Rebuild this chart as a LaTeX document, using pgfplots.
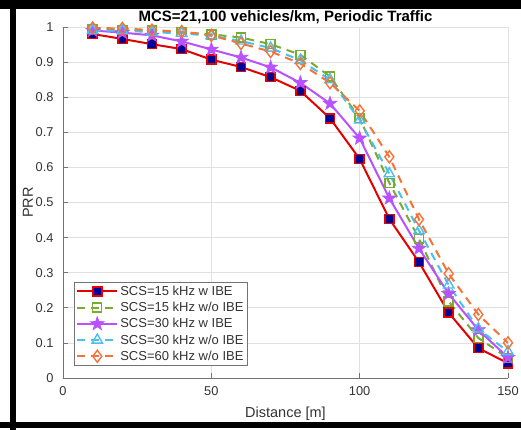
\documentclass[border=0pt]{standalone}
\usepackage{fontspec}
\setmainfont{Liberation Sans}
\usepackage{pgfplots}
\pgfplotsset{compat=1.18}

\definecolor{cRed}{rgb}{0.90,0.0,0.0}
\definecolor{cBlue}{rgb}{0.0,0.0,0.60}
\definecolor{cGreen}{rgb}{0.47,0.67,0.19}
\definecolor{cPurple}{rgb}{0.72,0.32,1.0}
\definecolor{cCyan}{rgb}{0.30,0.75,0.93}
\definecolor{cOrange}{rgb}{0.96,0.45,0.22}

% filled five-point star (MATLAB pentagram)
\pgfdeclareplotmark{fstar}{%
  \pgfpathmoveto{\pgfpointpolar{90}{\pgfplotmarksize}}%
  \pgfpathlineto{\pgfpointpolar{126}{0.4\pgfplotmarksize}}%
  \pgfpathlineto{\pgfpointpolar{162}{\pgfplotmarksize}}%
  \pgfpathlineto{\pgfpointpolar{198}{0.4\pgfplotmarksize}}%
  \pgfpathlineto{\pgfpointpolar{234}{\pgfplotmarksize}}%
  \pgfpathlineto{\pgfpointpolar{270}{0.4\pgfplotmarksize}}%
  \pgfpathlineto{\pgfpointpolar{306}{\pgfplotmarksize}}%
  \pgfpathlineto{\pgfpointpolar{342}{0.4\pgfplotmarksize}}%
  \pgfpathlineto{\pgfpointpolar{18}{\pgfplotmarksize}}%
  \pgfpathlineto{\pgfpointpolar{54}{0.4\pgfplotmarksize}}%
  \pgfpathclose
  \pgfusepathqfillstroke}

\begin{document}
\begin{tikzpicture}[x=1pt,y=1pt]
  % page with the black border of the screenshot
  \fill[white] (-63,-52) rectangle (458,378);
  \fill[black] (-63,369) rectangle (458,378);
  \begin{axis}[
    at={(0,0)}, anchor=south west,
    scale only axis,
    width=445pt, height=351pt,
    xmin=0, xmax=150, ymin=0, ymax=1,
    xtick={0,50,100,150},
    ytick={0,0.1,0.2,0.3,0.4,0.5,0.6,0.7,0.8,0.9,1},
    axis lines*=left,
    axis line style={black!55, line width=0.8pt, -},
    tick align=inside,
    major tick length=5pt,
    tick style={black!55, line width=0.7pt},
    grid=major,
    grid style={black!12, line width=0.7pt},
    /pgf/number format/assume math mode=true,
    ticklabel style={font=\fontsize{12.8}{14}\selectfont, text=black!80},
    yticklabel style={xshift=-6pt, /pgf/number format/fixed},
    xticklabel style={yshift=-5pt},
    title={\bfseries MCS=21,100 vehicles/km, Periodic Traffic},
    title style={at={(axis description cs:0.5,1)}, anchor=south, yshift=-6.5pt,
      font=\fontsize{15}{17}\selectfont},
    xlabel={Distance [m]},
    xlabel style={at={(axis description cs:0.5,-0.101)}, anchor=center,
      font=\fontsize{14.5}{16}\selectfont, text=black!80},
    ylabel={PRR},
    ylabel style={at={(axis description cs:-0.079,0.5)}, anchor=center,
      font=\fontsize{14.5}{16}\selectfont, text=black!80},
    legend cell align=left,
    legend style={at={(axis description cs:0.0247,0.034)}, anchor=south west,
      draw=black!55, fill=white, line width=0.6pt,
      font=\fontsize{13}{15}\selectfont, text=black!80,
      row sep=1.3pt, inner sep=2pt},
    legend image code/.code={%
      \draw[mark repeat=2, mark phase=2, #1]
        plot coordinates {(0pt,0pt) (20pt,0pt) (40pt,0pt)};},
    every axis plot/.append style={line width=2pt},
  ]
    \addplot[cRed, mark=square*, mark size=4.5pt,
      mark options={solid, fill=cBlue, draw=cRed, line width=1.6pt}]
      coordinates {
      (10,0.980) (20,0.966) (30,0.951) (40,0.937) (50,0.907)
      (60,0.886) (70,0.857) (80,0.818) (90,0.740) (100,0.624)
      (110,0.453) (120,0.330) (130,0.186) (140,0.085) (150,0.042)
    };
    \addlegendentry{SCS=15 kHz w IBE}
    \addplot[cGreen, dash pattern=on 8pt off 6pt, mark=square, mark size=4.5pt,
      mark options={solid, line width=1.4pt}]
      coordinates {
      (10,0.995) (20,0.992) (30,0.990) (40,0.985) (50,0.979)
      (60,0.970) (70,0.951) (80,0.921) (90,0.859) (100,0.740)
      (110,0.556) (120,0.397) (130,0.218) (140,0.114) (150,0.057)
    };
    \addlegendentry{SCS=15 kHz w/o IBE}
    \addplot[cPurple, mark=fstar, mark size=7pt,
      mark options={solid, fill=cPurple, line width=0.8pt}]
      coordinates {
      (10,0.990) (20,0.984) (30,0.976) (40,0.959) (50,0.936)
      (60,0.913) (70,0.885) (80,0.841) (90,0.782) (100,0.683)
      (110,0.512) (120,0.369) (130,0.240) (140,0.137) (150,0.058)
    };
    \addlegendentry{SCS=30 kHz w IBE}
    \addplot[cCyan, dash pattern=on 8pt off 6pt, mark=triangle, mark size=6pt,
      mark options={solid, line width=1.4pt}]
      coordinates {
      (10,0.990) (20,0.990) (30,0.985) (40,0.982) (50,0.975)
      (60,0.960) (70,0.940) (80,0.905) (90,0.850) (100,0.735)
      (110,0.582) (120,0.420) (130,0.265) (140,0.140) (150,0.075)
    };
    \addlegendentry{SCS=30 kHz w/o IBE}
    \addplot[cOrange, dash pattern=on 8pt off 6pt, mark=diamond, mark size=6pt,
      mark options={solid, line width=1.4pt}]
      coordinates {
      (10,0.997) (20,0.996) (30,0.991) (40,0.987) (50,0.976)
      (60,0.953) (70,0.930) (80,0.896) (90,0.841) (100,0.761)
      (110,0.630) (120,0.452) (130,0.297) (140,0.181) (150,0.100)
    };
    \addlegendentry{SCS=60 kHz w/o IBE}
  \end{axis}
  \fill[black] (-52.5,-52) rectangle (-46.5,378);
  \fill[black] (-63,-50) rectangle (458,-44);
  \pgfresetboundingbox
  \path (-63,-52) rectangle (458,378);
\end{tikzpicture}
\end{document}
